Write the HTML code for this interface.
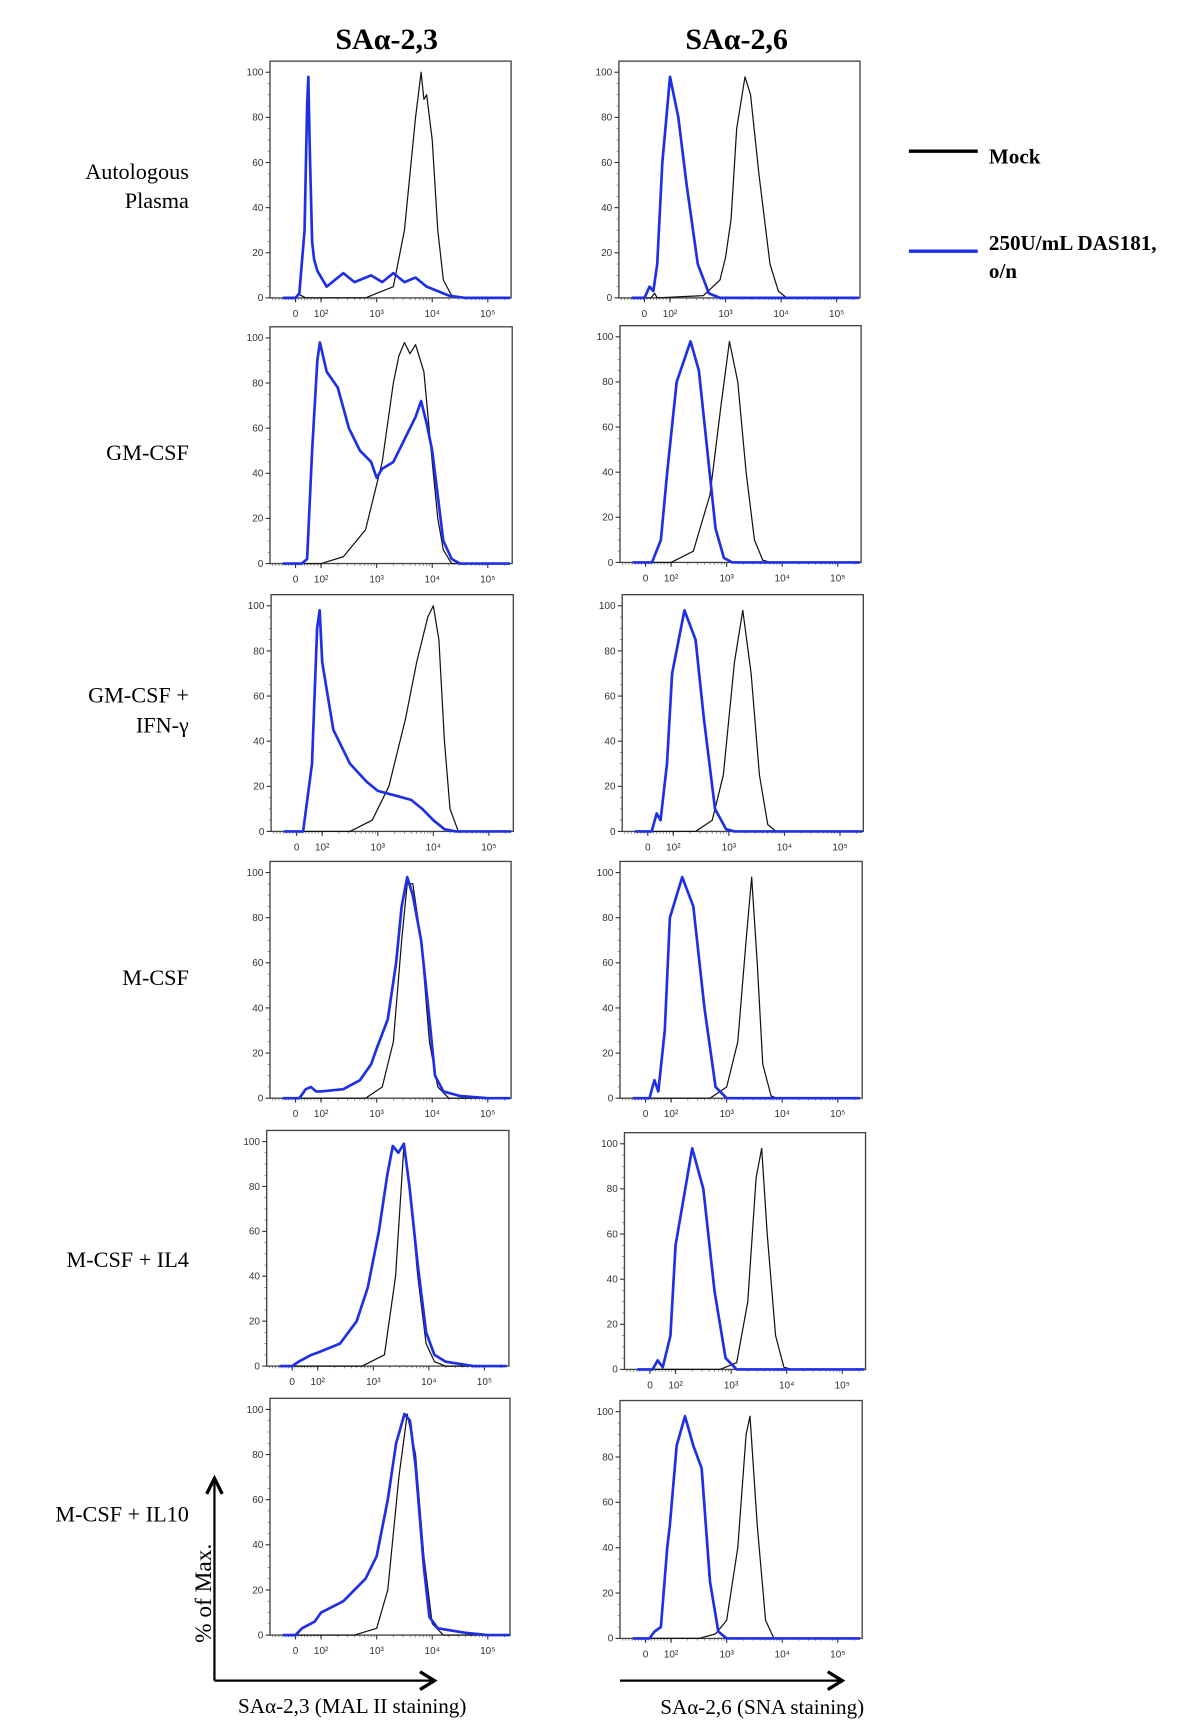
<!DOCTYPE html>
<html><head><meta charset="utf-8">
<style>
html,body{margin:0;padding:0;background:#fff;}
svg{display:block;}
text{font-family:"Liberation Serif",serif;}
.tick{font-family:"Liberation Sans",sans-serif;font-size:9px;fill:#333;}
</style></head>
<body>
<svg id="fig" width="1200" height="1734" viewBox="0 0 1080 1560" preserveAspectRatio="none">
<text x="348" y="44" text-anchor="middle" font-size="27" font-weight="bold">SAα-2,3</text>
<text x="663" y="44" text-anchor="middle" font-size="27" font-weight="bold">SAα-2,6</text>

<text x="170" y="161" text-anchor="end" font-size="20">Autologous</text>
<text x="170" y="187" text-anchor="end" font-size="20">Plasma</text>
<text x="170" y="414" text-anchor="end" font-size="20">GM-CSF</text>
<text x="170" y="632" text-anchor="end" font-size="20">GM-CSF +</text>
<text x="170" y="659" text-anchor="end" font-size="20">IFN-γ</text>
<text x="170" y="886" text-anchor="end" font-size="20">M-CSF</text>
<text x="170" y="1140" text-anchor="end" font-size="20">M-CSF + IL4</text>
<text x="170" y="1369" text-anchor="end" font-size="20">M-CSF + IL10</text>

<g>
<line x1="818" y1="136" x2="880" y2="136" stroke="#000" stroke-width="3"/>
<text x="890" y="147" font-size="19" font-weight="bold">Mock</text>
<line x1="818" y1="226" x2="880" y2="226" stroke="#1f2fe6" stroke-width="3"/>
<text x="890" y="225" font-size="19" font-weight="bold">250U/mL DAS181,</text>
<text x="890" y="250" font-size="19" font-weight="bold">o/n</text>
</g>

<g>
<line x1="193" y1="1512" x2="193" y2="1332" stroke="#000" stroke-width="2"/>
<polyline points="186,1344 193,1330 200,1344" fill="none" stroke="#000" stroke-width="3"/>
<line x1="193" y1="1512" x2="390" y2="1512" stroke="#000" stroke-width="2"/>
<polyline points="378,1504 391,1512 378,1520" fill="none" stroke="#000" stroke-width="3"/>
<line x1="558" y1="1512" x2="757" y2="1512" stroke="#000" stroke-width="2"/>
<polyline points="745,1504 758,1512 745,1520" fill="none" stroke="#000" stroke-width="3"/>
<text transform="translate(190,1478) rotate(-90)" font-size="21">% of Max.</text>
<text x="317" y="1541" text-anchor="middle" font-size="19">SAα-2,3 (MAL II staining)</text>
<text x="686" y="1542" text-anchor="middle" font-size="19">SAα-2,6 (SNA staining)</text>
</g>
<g id="panels"></g>
</svg>
<script>
// panel boxes: [left, top, right, bottom]
const panelNames = ["autologous","gmcsf","gmcsf-ifn","mcsf","mcsf-il4","mcsf-il10"];
const leftBoxes = [[243,55,460,268],[243,294,461,507],[244,535,462,748],[243,775,460,988],[240,1017,458,1229],[243,1258,459,1471]];
const rightBoxes = [[557,55,774,268],[558,293,775,506],[560,535,777,748],[558,775,776,988],[562,1019,779,1232],[558,1260,776,1474]];
const yTicks = [0,20,40,60,80,100];
const xTickLabels = ["0","10²","10³","10⁴","10⁵"];
const xTickValues = [0,2,3,4,5];
// series: [log10 intensity, % of max]
const mock23 = [
 [[-1,0],[0,0],[0.3,1.5],[0.8,0],[2.8,0],[3.0,2],[3.3,5],[3.5,30],[3.7,80],[3.8,100],[3.85,88],[3.9,90],[4.0,70],[4.1,30],[4.2,8],[4.35,1],[4.5,0],[5.4,0]],
 [[-1,0],[2.0,0],[2.4,3],[2.8,15],[3.1,45],[3.3,80],[3.4,92],[3.5,98],[3.6,93],[3.7,97],[3.85,85],[4.0,45],[4.1,20],[4.2,6],[4.35,0],[5.4,0]],
 [[-1,0],[2.5,0],[2.9,5],[3.2,20],[3.5,50],[3.7,75],[3.9,95],[4.0,100],[4.1,85],[4.2,40],[4.3,10],[4.45,0],[5.4,0]],
 [[-1,0],[2.8,0],[3.1,5],[3.3,25],[3.45,70],[3.55,95],[3.65,95],[3.8,70],[3.95,25],[4.1,5],[4.3,0],[5.4,0]],
 [[-1,0],[2.8,0],[3.2,5],[3.4,40],[3.55,98],[3.65,80],[3.8,40],[3.95,10],[4.1,2],[4.3,0],[5.4,0]],
 [[-1,0],[2.6,0],[3.0,3],[3.2,20],[3.4,70],[3.55,98],[3.7,80],[3.85,35],[4.0,5],[4.2,0],[5.4,0]]
];
const das23 = [
 [[-1,0],[0.0,0],[0.3,2],[0.7,30],[0.9,85],[1.0,98],[1.1,70],[1.3,25],[1.45,17],[1.7,12],[2.1,5],[2.4,11],[2.6,7],[2.9,10],[3.1,7],[3.3,11],[3.5,7],[3.7,9],[3.9,5],[4.1,3],[4.3,1],[4.6,0],[5.4,0]],
 [[-1,0],[0.5,0],[0.9,2],[1.3,50],[1.7,90],[1.9,98],[2.1,85],[2.3,78],[2.5,60],[2.7,50],[2.9,45],[3.0,38],[3.1,42],[3.3,45],[3.5,55],[3.6,60],[3.7,65],[3.8,72],[3.9,62],[4.0,50],[4.1,30],[4.2,10],[4.35,2],[4.5,0],[5.4,0]],
 [[-1,0],[0.5,0],[1.2,30],[1.6,90],[1.8,98],[2.0,75],[2.2,45],[2.5,30],[2.8,22],[3.0,18],[3.3,16],[3.6,14],[3.8,10],[4.0,5],[4.2,1],[4.4,0],[5.4,0]],
 [[-1,0],[0.3,0],[0.8,4],[1.2,5],[1.6,3],[2.0,3],[2.4,4],[2.7,8],[2.9,15],[3.0,22],[3.2,35],[3.35,60],[3.45,85],[3.55,98],[3.65,90],[3.8,70],[3.95,35],[4.05,10],[4.2,3],[4.5,1],[5.0,0],[5.4,0]],
 [[-1,0],[0,0],[0.5,2],[1.5,5],[2.0,6],[2.4,10],[2.7,20],[2.9,35],[3.1,60],[3.25,85],[3.35,98],[3.45,95],[3.55,99],[3.65,80],[3.8,45],[3.95,15],[4.1,5],[4.3,2],[4.8,0],[5.4,0]],
 [[-1,0],[0,0],[0.5,3],[1.5,6],[2.0,10],[2.4,15],[2.8,25],[3.0,35],[3.2,60],[3.35,85],[3.5,98],[3.6,95],[3.7,75],[3.85,30],[3.95,8],[4.1,3],[4.6,1],[5.0,0],[5.4,0]]
];
const mock26 = [
 [[-1,0],[0.5,0],[0.8,2],[1.0,0],[2.6,1],[2.9,8],[3.0,18],[3.1,35],[3.2,75],[3.35,98],[3.45,90],[3.6,55],[3.8,15],[3.95,3],[4.1,0],[5.4,0]],
 [[-1,0],[2.0,0],[2.4,5],[2.7,30],[2.9,70],[3.05,98],[3.2,80],[3.35,40],[3.5,10],[3.65,1],[3.8,0],[5.4,0]],
 [[-1,0],[2.4,0],[2.7,5],[2.9,25],[3.1,75],[3.25,98],[3.4,70],[3.55,25],[3.7,3],[3.85,0],[5.4,0]],
 [[-1,0],[2.7,0],[3.0,5],[3.2,25],[3.35,70],[3.45,98],[3.55,60],[3.65,15],[3.8,1],[3.9,0],[5.4,0]],
 [[-1,0],[2.8,0],[3.1,3],[3.3,30],[3.45,85],[3.55,98],[3.65,60],[3.8,15],[3.95,1],[4.1,0],[5.4,0]],
 [[-1,0],[2.5,0],[2.8,2],[3.0,8],[3.2,40],[3.35,90],[3.42,98],[3.55,50],[3.7,8],[3.85,0],[5.4,0]]
];
const das26 = [
 [[-1,0],[0,0],[0.4,5],[0.7,3],[1.0,15],[1.4,60],[1.8,85],[2.0,98],[2.15,80],[2.3,50],[2.5,15],[2.7,2],[2.9,0],[5.4,0]],
 [[-1,0],[0.5,0],[1.2,10],[1.7,40],[2.1,80],[2.35,98],[2.5,85],[2.65,50],[2.8,15],[2.95,2],[3.1,0],[5.4,0]],
 [[-1,0],[0.3,0],[0.7,8],[1.0,5],[1.5,30],[1.9,70],[2.2,98],[2.4,85],[2.55,50],[2.75,10],[2.95,1],[3.1,0],[5.4,0]],
 [[-1,0],[0.3,0],[0.7,8],[1.0,3],[1.5,30],[1.9,80],[2.2,98],[2.4,85],[2.6,40],[2.8,5],[3.0,0],[5.4,0]],
 [[-1,0],[0.2,0],[0.6,4],[1.0,1],[1.6,15],[2.0,55],[2.3,98],[2.5,80],[2.7,35],[2.9,5],[3.1,0],[5.4,0]],
 [[-1,0],[0.3,0],[0.7,3],[1.2,5],[1.7,40],[1.9,50],[2.1,85],[2.25,98],[2.4,85],[2.55,75],[2.7,25],[2.85,3],[3.0,0],[5.4,0]]
];

const NS = "http://www.w3.org/2000/svg";
function mk(tag, attrs, parent){ const e=document.createElementNS(NS,tag); for(const k in attrs) e.setAttribute(k,attrs[k]); parent.appendChild(e); return e; }
function xScale(box,u){
  const w=box[2]-box[0];
  let off = u<2 ? 23 + u*11.5 : 46 + (u-2)*50;
  off=Math.max(0,Math.min(w,off));
  return box[0]+off;
}
function yScale(box,p){ const top=box[1]+10, bot=box[3]; return bot-(bot-top)*p/100; }

const root=document.getElementById('panels');
function drawPanel(box, mock, das, name){
  const g=mk('g',{},root);
  
  
  const frame=mk('rect',{x:box[0],y:box[1],width:box[2]-box[0],height:box[3]-box[1],fill:'none',stroke:'#444','stroke-width':1.2},g);
  
  
  yTicks.forEach(t=>{
    const y=yScale(box,t);
    mk('line',{x1:box[0]-4,y1:y,x2:box[0],y2:y,stroke:'#333'},g);
    const tx=mk('text',{x:box[0]-6,y:y+3,'text-anchor':'end','class':'tick'},g);
    tx.textContent=t;
    
    
  });
  for(let t=5;t<100;t+=5){ if(t%20){ const y=yScale(box,t); mk('line',{x1:box[0]-2,y1:y,x2:box[0],y2:y,stroke:'#555','stroke-width':0.6},g);} }
  xTickValues.forEach((v,i)=>{
    const x=xScale(box,v);
    mk('line',{x1:x,y1:box[3],x2:x,y2:box[3]+4,stroke:'#333'},g);
    const tx=mk('text',{x:x,y:box[3]+17,'text-anchor':'middle','class':'tick'},g);
    tx.textContent=xTickLabels[i];
    
    
  });
  for(let d=2; d<5.4; d++){ for(let m=2;m<10;m++){ const u=d+Math.log10(m); if(u>5.4) break; const x=xScale(box,u); mk('line',{x1:x,y1:box[3],x2:x,y2:box[3]+2,stroke:'#555','stroke-width':0.6},g);} }
  for(let u=-1.8;u<2;u+=0.25){ const x=xScale(box,u); mk('line',{x1:x,y1:box[3],x2:x,y2:box[3]+2,stroke:'#555','stroke-width':0.6},g); }
  const toPts=arr=>arr.map(p=>xScale(box,p[0]).toFixed(1)+','+yScale(box,p[1]).toFixed(1)).join(' ');
  const m=mk('polyline',{points:toPts(mock),fill:'none',stroke:'#111','stroke-width':1.1,'stroke-linejoin':'round'},g);
  
  
  const b=mk('polyline',{points:toPts(das),fill:'none',stroke:'#1f2fe6','stroke-width':2.4,'stroke-linejoin':'round'},g);
  
  
}
for(let i=0;i<6;i++){
  drawPanel(leftBoxes[i], mock23[i], das23[i], 'panel-sa23-'+panelNames[i]);
  drawPanel(rightBoxes[i], mock26[i], das26[i], 'panel-sa26-'+panelNames[i]);
}
</script>
</body></html>
